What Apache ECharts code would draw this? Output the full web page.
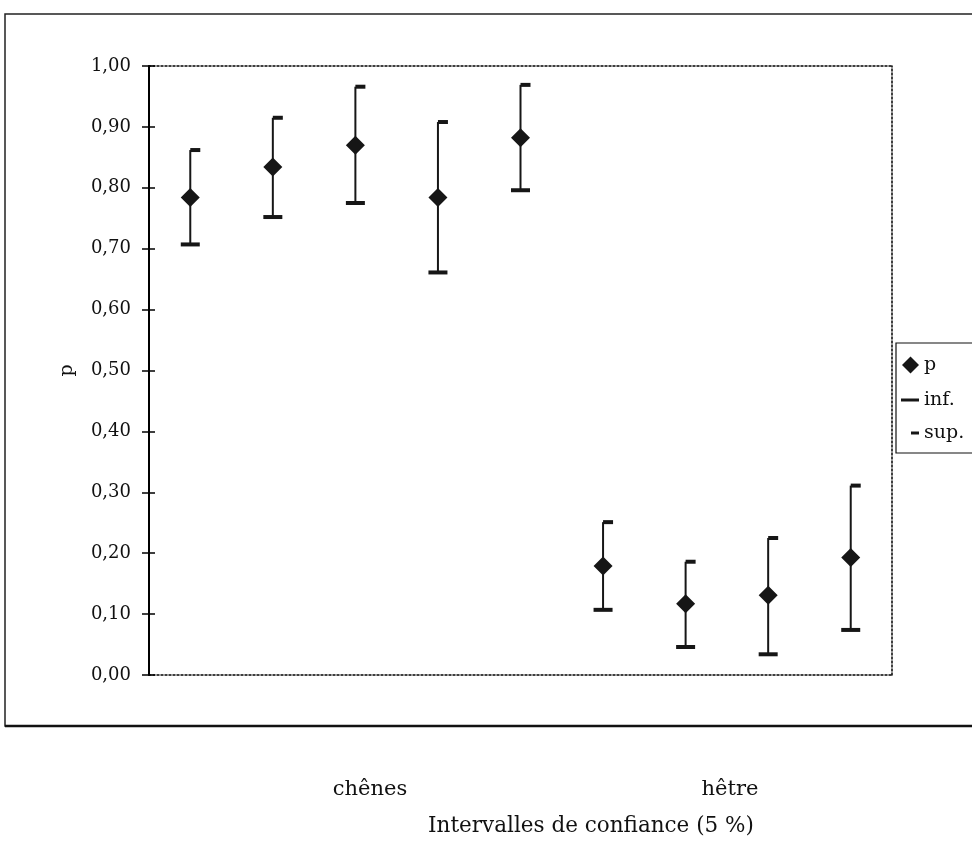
<!DOCTYPE html>
<html><head><meta charset="utf-8">
<script src="https://cdn.jsdelivr.net/npm/echarts@6/dist/echarts.min.js"></script>
<style>html,body{margin:0;padding:0;background:#fff}#c{width:972px;height:843px}</style>
</head><body><div id="c"></div>
<script>
const categories = ['1','2','3','4','5','6','7','8','9'];
const pValues   = [0.784, 0.834, 0.870, 0.784, 0.882, 0.179, 0.117, 0.131, 0.193];
const infValues = [0.707, 0.752, 0.775, 0.661, 0.796, 0.107, 0.046, 0.034, 0.074];
const supValues = [0.862, 0.915, 0.966, 0.908, 0.969, 0.251, 0.186, 0.225, 0.311];
const groupLabels = ['chênes', 'hêtre'];
const xTitle = 'Intervalles de confiance (5 %)';
const yName = 'p';
const seriesNames = ['p', 'inf.', 'sup.'];

const FONT = 'DejaVu Serif';
const INK = '#161616';
const fmt = v => v.toFixed(2).replace('.', ',');

const chart = echarts.init(document.getElementById('c'), null, {renderer: 'canvas'});
const txt = {fontFamily: FONT, fontSize: 19, color: '#111', lineHeight: 20};
const dotted = {color: '#000', width: 1.5, type: [2, 2]};

chart.setOption({
  backgroundColor: '#fff',
  animation: false,
  grid: {left: 149, right: 80, top: 66, bottom: 168, containLabel: false},
  xAxis: [
    {type: 'category', data: categories, boundaryGap: true,
     axisLine: {onZero: false, lineStyle: dotted},
     axisTick: {show: false}, axisLabel: {show: false}, splitLine: {show: false}},
    {type: 'category', data: categories, position: 'top', boundaryGap: true,
     axisLine: {onZero: false, lineStyle: dotted},
     axisTick: {show: false}, axisLabel: {show: false}, splitLine: {show: false}}
  ],
  yAxis: [
    {type: 'value', min: 0, max: 1, interval: 0.1, name: yName,
     nameLocation: 'middle', nameGap: 72, nameRotate: 90,
     nameTextStyle: {fontFamily: FONT, fontSize: 19, color: '#111'},
     axisLine: {show: true, onZero: false, lineStyle: {color: '#000', width: 2}},
     axisTick: {show: true, length: 7, lineStyle: {color: '#000', width: 1.5}},
     axisLabel: {formatter: fmt, margin: 18, fontFamily: FONT, fontSize: 18, color: '#111'},
     splitLine: {show: false}},
    {type: 'value', min: 0, max: 1, interval: 0.1, position: 'left',
     axisLine: {show: false, onZero: false},
     axisTick: {show: true, inside: true, length: 6, lineStyle: {color: '#000', width: 1.5}},
     axisLabel: {show: false}, splitLine: {show: false}},
    {type: 'value', min: 0, max: 1, interval: 0.1, position: 'right',
     axisLine: {show: true, onZero: false, lineStyle: dotted},
     axisTick: {show: false}, axisLabel: {show: false}, splitLine: {show: false}}
  ],
  legend: [
    {data: [{name: seriesNames[0], icon: 'diamond'}], left: 902, top: 355, padding: 0, z: 50,
     itemWidth: 17, itemHeight: 17, itemGap: 0, textStyle: txt, selectedMode: false},
    {data: [{name: seriesNames[1], icon: 'rect'}], left: 901, top: 390, padding: 0, z: 50,
     itemWidth: 18, itemHeight: 3, itemGap: 0, textStyle: txt, selectedMode: false},
    {data: [{name: seriesNames[2], icon: 'rect'}], left: 911, top: 423, padding: 0, z: 50,
     itemWidth: 8, itemHeight: 3, itemGap: 0, textStyle: txt, selectedMode: false}
  ],
  graphic: {
    z: 0,
    elements: [
      {type: 'rect', shape: {x: 5, y: 14, width: 1000, height: 712},
       style: {fill: 'none', stroke: '#222', lineWidth: 1.5}, silent: true},
      {type: 'line', shape: {x1: 5, y1: 726, x2: 972, y2: 726},
       style: {stroke: '#111', lineWidth: 2.5}, silent: true},
      {type: 'rect', shape: {x: 896, y: 343, width: 100, height: 110},
       style: {fill: '#fff', stroke: '#111', lineWidth: 1.2}, silent: true},
      {type: 'text', x: 370, y: 790, style: {text: groupLabels[0], fontFamily: FONT, fontSize: 21, fill: '#111', align: 'center', verticalAlign: 'middle'}},
      {type: 'text', x: 730, y: 790, style: {text: groupLabels[1], fontFamily: FONT, fontSize: 21, fill: '#111', align: 'center', verticalAlign: 'middle'}},
      {type: 'text', x: 591, y: 826, style: {text: xTitle, fontFamily: FONT, fontSize: 21.5, fill: '#111', align: 'center', verticalAlign: 'middle'}}
    ]
  },
  series: [
    {name: 'err', type: 'custom', xAxisIndex: 0, yAxisIndex: 0, z: 1,
     data: categories.map((c, i) => [i, infValues[i], supValues[i]]),
     encode: {x: 0, y: [1, 2]},
     renderItem: function (params, api) {
       const x = api.value(0);
       const lo = api.coord([x, api.value(1)]);
       const hi = api.coord([x, api.value(2)]);
       return {type: 'line', shape: {x1: lo[0], y1: lo[1], x2: hi[0], y2: hi[1]},
               style: {stroke: INK, lineWidth: 2}};
     }},
    {name: seriesNames[1], type: 'scatter', data: infValues, symbol: 'rect', symbolSize: [19, 4],
     itemStyle: {color: INK, opacity: 1}, z: 3},
    {name: seriesNames[2], type: 'scatter', data: supValues, symbol: 'rect', symbolSize: [10, 4],
     symbolOffset: [5, 0], itemStyle: {color: INK, opacity: 1}, z: 3},
    {name: seriesNames[0], type: 'scatter', data: pValues, symbol: 'diamond', symbolSize: 19,
     itemStyle: {color: INK, opacity: 1}, z: 4}
  ]
});
</script></body></html>
